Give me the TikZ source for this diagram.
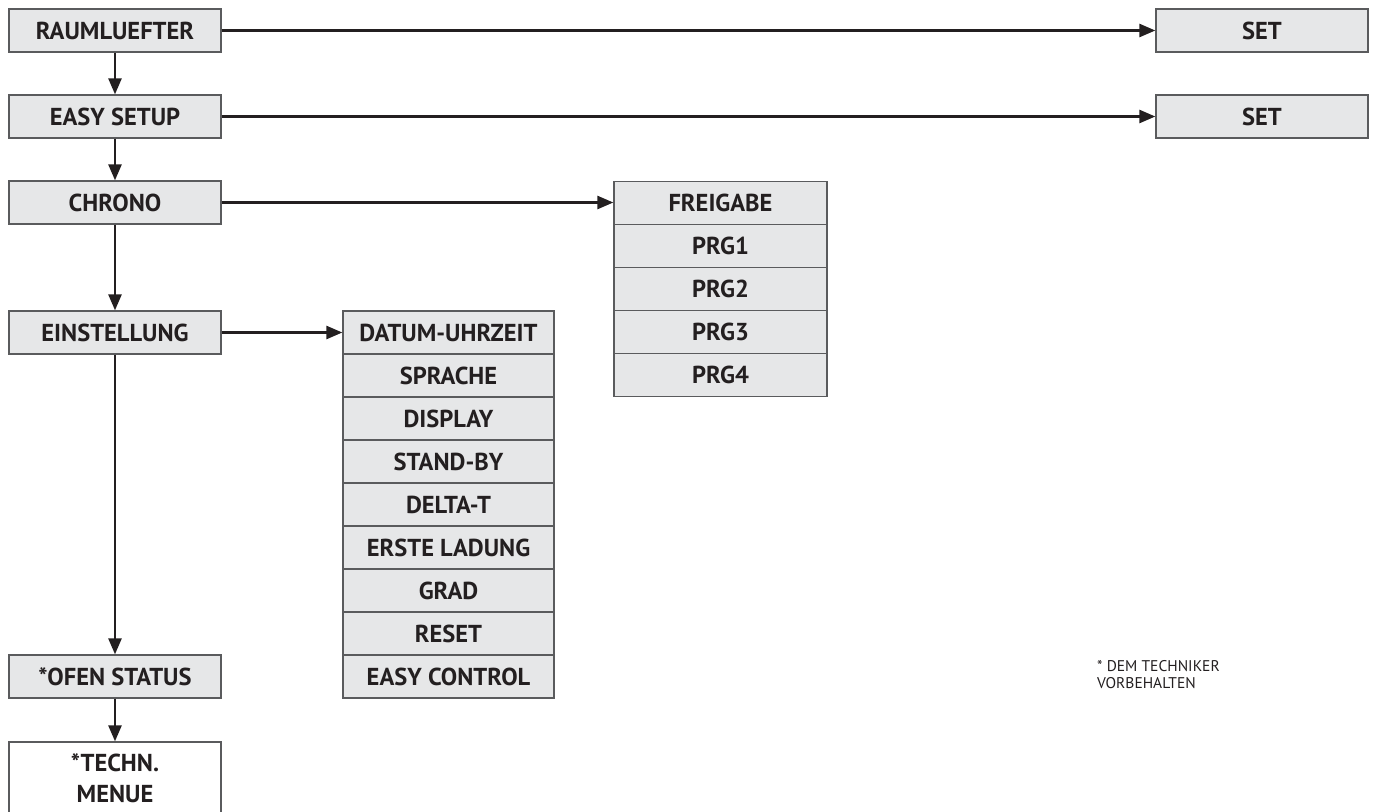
\documentclass[tikz,border=0pt]{standalone}
\usepackage{fontspec}
\setmainfont{PT Sans}
\usetikzlibrary{arrows.meta}
\definecolor{boxgray}{HTML}{E6E7E8}
\definecolor{edgegray}{HTML}{5A5B5D}
\definecolor{ink}{HTML}{231F20}
\tikzset{
  menubox/.style={draw=edgegray, fill=boxgray, line width=1.3pt, minimum width=212pt, minimum height=43pt, inner sep=0pt, text=ink, font=\bfseries\fontsize{24.5}{28}\selectfont},
  listbox/.style={menubox, minimum width=212pt},
  conn/.style={draw=ink, line width=2.5pt, -{Triangle[length=16pt,width=13pt]}},
  notetext/.style={text=ink, font=\fontsize{15.5}{17.5}\selectfont, align=left, anchor=north west, inner sep=0pt}
}
\begin{document}
\begin{tikzpicture}[x=1pt,y=-1pt]
\useasboundingbox (0,0) rectangle (1375,811);
\clip (0,0) rectangle (1375,811);
% left column
\node[menubox] (raum) at (115,30.5) {RAUMLUEFTER};
\node[menubox] (easy) at (115,116.5) {EASY SETUP};
\node[menubox] (chrono) at (115,202.5) {CHRONO};
\node[menubox] (einst) at (115,332.5) {EINSTELLUNG};
\node[menubox] (ofen) at (115,676.5) {*OFEN STATUS};
\node[menubox, fill=white, minimum height=72pt, align=center, font=\bfseries\fontsize{24.5}{31}\selectfont] (techn) at (115,778) {*TECHN.\\MENUE};
% SET boxes
\node[menubox] (set1) at (1262,30.5) {SET};
\node[menubox] (set2) at (1262,116.5) {SET};
% chrono list
\node[listbox, minimum width=213pt] (frei) at (720.5,203) {FREIGABE};
\node[listbox, minimum width=213pt] (prg1) at (720.5,246) {PRG1};
\node[listbox, minimum width=213pt] (prg2) at (720.5,289) {PRG2};
\node[listbox, minimum width=213pt] (prg3) at (720.5,332) {PRG3};
\node[listbox, minimum width=213pt] (prg4) at (720.5,375) {PRG4};
% einstellung list
\node[listbox, minimum width=211pt] (datum) at (448.5,332.5) {DATUM-UHRZEIT};
\node[listbox, minimum width=211pt] (sprache) at (448.5,375.5) {SPRACHE};
\node[listbox, minimum width=211pt] (display) at (448.5,418.5) {DISPLAY};
\node[listbox, minimum width=211pt] (standby) at (448.5,461.5) {STAND-BY};
\node[listbox, minimum width=211pt] (delta) at (448.5,504.5) {DELTA-T};
\node[listbox, minimum width=211pt] (erste) at (448.5,547.5) {ERSTE LADUNG};
\node[listbox, minimum width=211pt] (grad) at (448.5,590.5) {GRAD};
\node[listbox, minimum width=211pt] (reset) at (448.5,633.5) {RESET};
\node[listbox, minimum width=211pt] (ectrl) at (448.5,676.5) {EASY CONTROL};
% note
\node[notetext] (note) at (1097,660) {* DEM TECHNIKER\\VORBEHALTEN};
% connectors
\draw[conn] (raum.east) -- (raum.east -| set1.west);
\draw[conn] (easy.east) -- (easy.east -| set2.west);
\draw[conn] (chrono.east) -- (chrono.east -| frei.west);
\draw[conn] (einst.east) -- (einst.east -| datum.west);
\draw[conn] (raum.south) -- (easy.north);
\draw[conn] (easy.south) -- (chrono.north);
\draw[conn] (chrono.south) -- (einst.north);
\draw[conn] (einst.south) -- (ofen.north);
\draw[conn] (ofen.south) -- (techn.north);
\end{tikzpicture}
\end{document}
